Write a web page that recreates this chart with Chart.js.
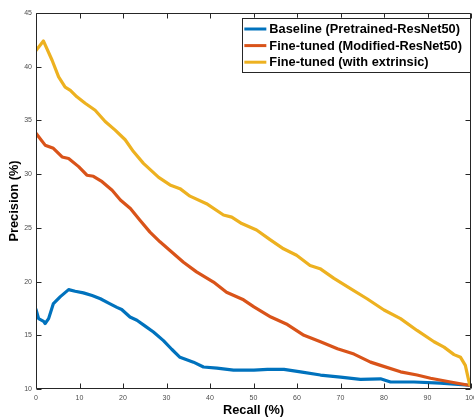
<!DOCTYPE html>
<html>
<head>
<meta charset="utf-8">
<script src="https://cdn.jsdelivr.net/npm/chart.js@4.4.1/dist/chart.umd.min.js"></script>
<style>
  html, body { margin: 0; padding: 0; background: #ffffff; }
  #wrap { width: 474px; height: 418px; }
</style>
</head>
<body>
<div id="wrap"><canvas id="c" width="474" height="418"></canvas></div>
<script>
// Precision-recall curves for the three retrieval models
const seriesLabels = [
  'Baseline (Pretrained-ResNet50)',
  'Fine-tuned (Modified-ResNet50)',
  'Fine-tuned (with extrinsic)'
];
const seriesColors = ['#0072BD', '#D95319', '#EDB120'];

const recallBaseline = [0, 0.6, 1.75, 2.1, 2.9, 4.0, 5.6, 7.5, 9.0, 10.9, 12.9, 14.8, 16.7, 18.6, 19.7,
  21.6, 23.2, 25.1, 27, 29.3, 31.2, 33.1, 36.2, 38.5, 41.6, 45.4, 50.1, 53.2, 57, 60.8, 65.4, 70,
  74.6, 79.2, 81.5, 86.9, 93, 99.5];
const precisionBaseline = [17.4, 16.55, 16.3, 16.1, 16.55, 17.95, 18.6, 19.25, 19.1, 18.95, 18.7, 18.4, 18.0, 17.6, 17.4,
  16.7, 16.4, 15.85, 15.3, 14.5, 13.7, 12.95, 12.5, 12.05, 11.95, 11.75, 11.75, 11.83, 11.83, 11.6, 11.3, 11.1,
  10.9, 10.95, 10.65, 10.65, 10.55, 10.35];

const recallModified = [0, 2.1, 4.0, 6.0, 7.5, 9.8, 11.7, 13.2, 15.2, 17.5, 19.4, 21.7, 23.9, 26.2, 28.5,
  30.8, 33.9, 36.9, 40.8, 43.8, 47.7, 50.1, 54, 57.8, 61.6, 65.4, 69.3, 73.1, 76.9, 79.2, 83.8, 87.6,
  90.7, 95.3, 99.5];
const precisionModified = [33.8, 32.7, 32.4, 31.6, 31.45, 30.7, 29.9, 29.8, 29.3, 28.5, 27.6, 26.8, 25.7, 24.6, 23.7,
  22.9, 21.8, 20.9, 19.95, 19.0, 18.3, 17.65, 16.7, 16.0, 15.0, 14.4, 13.75, 13.25, 12.5, 12.2, 11.6, 11.3,
  11.0, 10.65, 10.35];

const recallExtrinsic = [0, 1.7, 3.7, 5.2, 6.7, 7.9, 9.4, 11.3, 13.6, 15.9, 18.2, 20.5, 22.4, 24.7, 28.2,
  30.8, 33.1, 35.4, 39.2, 43.1, 45, 47.3, 50.7, 53.8, 56.9, 59.9, 63, 65.3, 68.5, 72.3, 76.1, 80,
  83.8, 87.6, 91.5, 93.8, 96.1, 97.6, 98.7, 99.3, 99.7];
const precisionExtrinsic = [41.5, 42.4, 40.6, 39.05, 38.1, 37.8, 37.2, 36.6, 35.95, 34.9, 34.1, 33.2, 32.1, 31.0, 29.7,
  29.0, 28.65, 27.95, 27.25, 26.2, 26.0, 25.4, 24.8, 23.9, 23.05, 22.45, 21.5, 21.2, 20.3, 19.35, 18.4, 17.35,
  16.55, 15.45, 14.4, 13.9, 13.2, 12.95, 12.2, 11.1, 10.4];

const xTickValues = [0, 10, 20, 30, 40, 50, 60, 70, 80, 90, 100];
const yTickValues = [10, 15, 20, 25, 30, 35, 40, 45];

const toPoints = (xs, ys) => xs.map((x, i) => ({ x: x, y: ys[i] }));

const frameColor = '#262626';
const tickFont = { family: 'Liberation Sans, Arial, sans-serif', size: 7 };
const titleFont = { family: 'Liberation Sans, Arial, sans-serif', size: 12.8, weight: 'bold' };

// Boxed axes with inward ticks on all four sides
const boxAxes = {
  id: 'boxAxes',
  afterDatasetsDraw(chart) {
    const { ctx, chartArea: a, scales } = chart;
    const L = Math.round(a.left) + 0.5, R = Math.round(a.right) - 0.5;
    const T = Math.round(a.top) + 0.5, B = Math.round(a.bottom) - 0.5;
    const len = 5;
    ctx.save();
    ctx.strokeStyle = frameColor;
    ctx.lineWidth = 1;
    ctx.beginPath();
    ctx.rect(L, T, R - L, B - T);
    scales.x.ticks.forEach(t => {
      const px = Math.round(scales.x.getPixelForValue(t.value)) + 0.5;
      ctx.moveTo(px, B); ctx.lineTo(px, B - len);
      ctx.moveTo(px, T); ctx.lineTo(px, T + len);
    });
    scales.y.ticks.forEach(t => {
      const py = Math.round(scales.y.getPixelForValue(t.value)) + 0.5;
      ctx.moveTo(L, py); ctx.lineTo(L + len, py);
      ctx.moveTo(R, py); ctx.lineTo(R - len, py);
    });
    ctx.stroke();
    ctx.restore();
  }
};

// Boxed legend in the upper-right corner of the plot
const boxLegend = {
  id: 'boxLegend',
  afterDraw(chart) {
    const { ctx, chartArea: a } = chart;
    const sets = chart.data.datasets;
    const right = a.right - 1;
    const top = a.top + 4.7;
    const rowH = 16.6;
    const sampleLen = 22;
    ctx.save();
    ctx.font = 'bold 12.8px "Liberation Sans", Arial, sans-serif';
    const textW = Math.max(...sets.map(d => ctx.measureText(d.label).width));
    const boxW = 2 + sampleLen + 3 + textW + 8;
    const boxH = rowH * sets.length + 4.5;
    const left = right - boxW;
    ctx.fillStyle = '#ffffff';
    ctx.fillRect(left, top, boxW, boxH);
    ctx.strokeStyle = frameColor;
    ctx.lineWidth = 1;
    ctx.strokeRect(Math.round(left) + 0.5, Math.round(top) + 0.5, Math.round(boxW), Math.round(boxH));
    sets.forEach((d, i) => {
      const cy = top + 11.3 + i * rowH;
      ctx.strokeStyle = d.borderColor;
      ctx.lineWidth = 3;
      ctx.beginPath();
      ctx.moveTo(left + 2, cy);
      ctx.lineTo(left + 2 + sampleLen, cy);
      ctx.stroke();
      ctx.fillStyle = '#000000';
      ctx.textAlign = 'left';
      ctx.textBaseline = 'middle';
      ctx.fillText(d.label, left + 2 + sampleLen + 3, cy + 0.5);
    });
    ctx.restore();
  }
};

new Chart(document.getElementById('c'), {
  type: 'line',
  data: {
    datasets: [
      { label: seriesLabels[0], data: toPoints(recallBaseline, precisionBaseline), borderColor: seriesColors[0], order: 3 },
      { label: seriesLabels[1], data: toPoints(recallModified, precisionModified), borderColor: seriesColors[1], order: 2 },
      { label: seriesLabels[2], data: toPoints(recallExtrinsic, precisionExtrinsic), borderColor: seriesColors[2], order: 1 }
    ]
  },
  options: {
    responsive: false,
    animation: false,
    devicePixelRatio: 1,
    layout: { padding: { top: 13, right: 3, left: 0, bottom: 0 } },
    elements: {
      line: { borderWidth: 3.2, tension: 0, borderJoinStyle: 'round', borderCapStyle: 'round', fill: false },
      point: { radius: 0, hoverRadius: 0 }
    },
    plugins: { legend: { display: false }, tooltip: { enabled: false } },
    scales: {
      x: {
        type: 'linear',
        min: 0, max: 100,
        afterBuildTicks: s => { s.ticks = xTickValues.map(v => ({ value: v })); },
        afterFit: s => { s.height = 29; s.paddingLeft = 0; s.paddingRight = 0; },
        grid: { display: false, drawTicks: false },
        border: { display: false },
        ticks: { font: tickFont, color: '#4d4d4d', padding: 5, maxRotation: 0, autoSkip: false },
        title: { display: true, text: 'Recall (%)', font: titleFont, color: '#000000', padding: { top: 0, bottom: 0 } }
      },
      y: {
        type: 'linear',
        min: 10, max: 45,
        afterBuildTicks: s => { s.ticks = yTickValues.map(v => ({ value: v })); },
        afterFit: s => { s.width = 36; s.paddingTop = 0; s.paddingBottom = 0; },
        grid: { display: false, drawTicks: false },
        border: { display: false },
        ticks: { font: tickFont, color: '#4d4d4d', padding: 4, autoSkip: false },
        title: { display: true, text: 'Precision (%)', font: titleFont, color: '#000000', padding: { top: 7, bottom: 0 } }
      }
    }
  },
  plugins: [boxAxes, boxLegend]
});
</script>
</body>
</html>
